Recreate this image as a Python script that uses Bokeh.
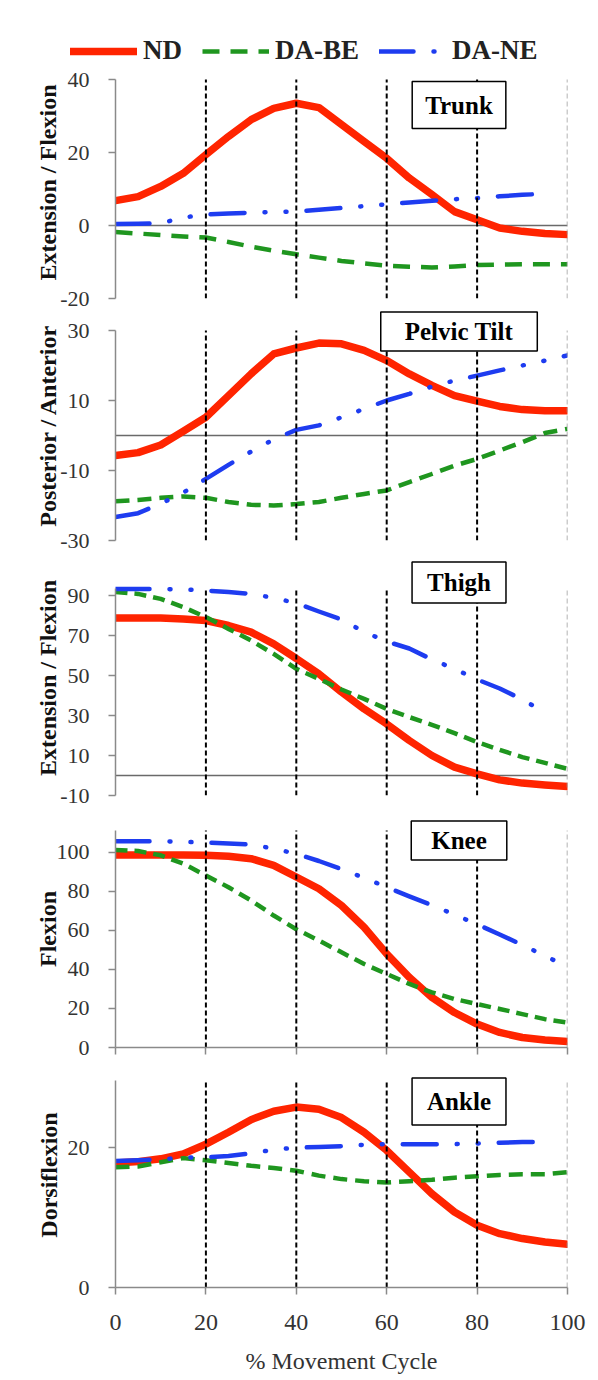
import numpy as np
from bokeh.plotting import figure
from bokeh.models import Range1d, FixedTicker, Span, Label, Legend, LegendItem
from bokeh.layouts import column
from bokeh.embed import file_html
from bokeh.resources import INLINE

NaN = float("nan")

# ---------------- data ----------------
cycle = [0, 5, 10, 15, 20, 25, 30, 35, 40, 45, 50, 55, 60, 65, 70, 75, 80, 85, 90, 95, 100]
series_names = ["ND", "DA-BE", "DA-NE"]
joints = ["Trunk", "Pelvic Tilt", "Thigh", "Knee", "Ankle"]
y_titles = ["Extension / Flexion", "Posterior / Anterior", "Extension / Flexion", "Flexion", "Dorsiflexion"]
x_title = "% Movement Cycle"
x_ticks = [0, 20, 40, 60, 80, 100]
phase_marks = [20, 40, 60, 80]
cycle_end = 100

trunk_nd = [6.8, 7.9, 10.7, 14.3, 19.4, 24.4, 29.0, 32.1, 33.5, 32.3, 27.7, 23.0, 18.4, 13.0, 8.5, 3.8, 1.6, -0.7, -1.6, -2.2, -2.5]
trunk_be = [-1.8, -2.2, -2.6, -3.0, -3.3, -4.5, -5.8, -6.9, -7.9, -8.8, -9.7, -10.4, -11.0, -11.3, -11.5, -11.2, -10.8, -10.7, -10.6, -10.6, -10.6]
trunk_ne = [0.4, 0.5, 0.6, 2.2, 3.0, 3.3, 3.5, 3.7, 3.8, 4.3, 4.8, 5.3, 5.8, 6.3, 6.8, 7.2, 7.5, 8.0, 8.4, 8.7, NaN]

pelvis_nd = [-5.7, -4.9, -2.7, 1.2, 5.2, 11.4, 17.6, 23.3, 25.0, 26.4, 26.2, 24.3, 21.4, 17.6, 14.3, 11.4, 9.8, 8.3, 7.4, 7.1, 7.1]
pelvis_be = [-18.8, -18.4, -17.8, -17.4, -17.8, -19.0, -19.8, -20.0, -19.6, -19.0, -17.8, -16.7, -15.7, -13.3, -11.0, -8.6, -6.7, -4.3, -1.9, 0.7, 1.9]
pelvis_ne = [-23.3, -22.2, -19.5, -16.3, -12.4, -8.4, -4.6, -1.1, 1.6, 2.9, 5.2, 7.6, 10.0, 11.9, 14.0, 15.7, 17.1, 18.6, 20.0, 21.4, 22.9]

thigh_nd = [78.8, 78.8, 78.7, 78.3, 77.5, 75.0, 71.7, 65.8, 58.5, 50.8, 41.7, 33.3, 25.8, 17.5, 10.0, 4.2, 0.8, -2.2, -3.8, -4.7, -5.5]
thigh_be = [91.7, 90.8, 88.3, 84.2, 79.2, 73.3, 67.5, 60.8, 53.3, 48.3, 43.0, 38.3, 33.3, 29.2, 25.3, 21.2, 16.7, 12.8, 9.2, 6.3, 3.3]
thigh_ne = [93.3, 93.3, 93.3, 93.0, 92.5, 91.7, 90.8, 88.8, 86.2, 82.0, 78.0, 71.8, 67.0, 63.5, 58.0, 53.3, 48.0, 43.5, 38.0, 31.5, NaN]

knee_nd = [98.5, 98.5, 98.5, 98.5, 98.3, 97.8, 96.6, 93.2, 87.2, 81.2, 72.6, 61.5, 47.9, 35.9, 25.6, 17.9, 12.0, 7.7, 5.1, 3.8, 3.1]
knee_be = [101.0, 100.5, 98.3, 94.0, 88.0, 82.0, 75.2, 67.5, 60.5, 54.7, 48.7, 42.7, 37.6, 32.5, 28.2, 24.8, 22.2, 19.7, 17.1, 14.5, 12.8]
knee_ne = [105.5, 105.5, 105.5, 105.2, 104.8, 104.3, 103.8, 101.7, 99.1, 95.4, 91.2, 86.8, 82.0, 77.3, 72.8, 68.0, 63.0, 57.8, 52.5, 46.8, 41.5]

ankle_nd = [17.8, 18.0, 18.4, 19.1, 20.5, 22.2, 24.0, 25.2, 25.8, 25.5, 24.3, 22.2, 19.6, 16.5, 13.4, 10.8, 8.9, 7.7, 7.0, 6.5, 6.2]
ankle_be = [17.2, 17.3, 17.9, 18.5, 18.2, 17.8, 17.4, 17.1, 16.7, 16.0, 15.5, 15.2, 15.0, 15.2, 15.4, 15.7, 15.9, 16.1, 16.2, 16.2, 16.5]
ankle_ne = [18.1, 18.2, 18.3, 18.6, 18.6, 18.8, 19.2, 19.7, 20.0, 20.1, 20.2, 20.4, 20.5, 20.5, 20.5, 20.5, 20.6, 20.7, 20.8, 20.8, NaN]

trunk_ticks = [-20, 0, 20, 40]
pelvis_ticks = [-30, -10, 10, 30]
thigh_ticks = [-10, 10, 30, 50, 70, 90]
knee_ticks = [0, 20, 40, 60, 80, 100]
ankle_ticks = [0, 20]

panel_series = [
    (trunk_nd, trunk_be, trunk_ne),
    (pelvis_nd, pelvis_be, pelvis_ne),
    (thigh_nd, thigh_be, thigh_ne),
    (knee_nd, knee_be, knee_ne),
    (ankle_nd, ankle_be, ankle_ne),
]
panel_ticks = [trunk_ticks, pelvis_ticks, thigh_ticks, knee_ticks, ankle_ticks]

# ---------------- style / layout ----------------
RED = "#ff2400"
GREEN = "#1f961f"
BLUE = "#1e3cf0"
SERIF = "Liberation Serif"
W = 590
LEFT, RIGHT = 115, 23
BE_DASH = ["17 11", "14 8", "12 7", "12 7", "14 8"]
NE_DASH = "34 20 1 20 1 20"

# axis bounds, axis pixel height, extra frame above axis, border below,
# title standoff, zero line, label position (data), label padding (h, v)
layout = [
    dict(ax=(-20, 40), ah=219, te=13, bb=12, als=-4, zero=True, lab=(76, 33.0), pad=(13, 10)),
    dict(ax=(-30, 30), ah=210, te=20, bb=20, als=-4, zero=True, lab=(76, 29.7), pad=(24, 6)),
    dict(ax=(-10, 93.5), ah=207, te=28, bb=15, als=-4, zero=True, lab=(76, 96.5), pad=(15, 7)),
    dict(ax=(0, 111), ah=217, te=20, bb=15, als=-7, zero=False, lab=(76, 105.9), pad=(20, 6)),
    dict(ax=(0, 29.6), ah=207, te=18, bb=91, als=3, zero=False, lab=(76, 26.6), pad=(15, 10)),
]

# ---- legend strip (its key glyphs refer to one-sample proxies of the trunk series) ----
lg = figure(width=W, height=66, x_range=Range1d(0, 100), y_range=Range1d(1000, 1001),
            output_backend="svg", toolbar_location=None,
            x_axis_location=None, y_axis_location=None,
            min_border_left=0, min_border_right=0, min_border_top=0, min_border_bottom=0)
lg.frame_align = False
lg.outline_line_color = None
lg.grid.visible = False
lr_nd = lg.line(cycle[:1], trunk_nd[:1], line_color=RED, line_width=7.5, line_cap="round")
lr_be = lg.line(cycle[:1], trunk_be[:1], line_color=GREEN, line_width=4.5, line_dash=BE_DASH[0])
lr_ne = lg.line(cycle[:1], trunk_ne[:1], line_color=BLUE, line_width=4.5, line_dash=NE_DASH, line_cap="round")
legend = Legend(items=[LegendItem(label=series_names[0], renderers=[lr_nd]),
                       LegendItem(label=series_names[1], renderers=[lr_be]),
                       LegendItem(label=series_names[2], renderers=[lr_ne])],
                location=(70, 0), orientation="horizontal",
                border_line_color=None, background_fill_alpha=0,
                padding=0, margin=0, spacing=20, glyph_width=67, glyph_height=30,
                label_height=30, label_standoff=6,
                label_text_font=SERIF, label_text_font_style="bold",
                label_text_font_size="27px", label_text_color="#222222")
lg.add_layout(legend)

figs = [lg]
for i, joint in enumerate(joints):
    L = layout[i]
    lo, hi = L["ax"]
    u = (hi - lo) / L["ah"]
    nd, be, ne = panel_series[i]
    p = figure(width=W, height=L["te"] + L["ah"] + L["bb"],
               x_range=Range1d(0, 100), y_range=Range1d(lo, hi + L["te"] * u),
               output_backend="svg", toolbar_location=None,
               min_border_left=LEFT, min_border_right=RIGHT,
               min_border_top=0, min_border_bottom=L["bb"])
    p.outline_line_color = None
    p.xgrid.visible = False
    p.ygrid.visible = False
    p.background_fill_color = "white"
    p.border_fill_color = "white"

    if L["zero"]:
        p.add_layout(Span(location=0, dimension="width", line_color="#6a6a6a", line_width=1.4, level="underlay"))

    xs = np.array(cycle, float)
    p.line(xs, np.array(nd, float), line_color=RED, line_width=7.5, line_cap="round", line_join="round")
    p.line(xs, np.array(be, float), line_color=GREEN, line_width=4.5, line_dash=BE_DASH[i], line_join="round")
    p.line(xs, np.array(ne, float), line_color=BLUE, line_width=4.5, line_dash=NE_DASH,
           line_cap="round", line_join="round")

    n = len(phase_marks)
    p.segment(x0=phase_marks, y0=[lo] * n, x1=phase_marks, y1=[hi] * n,
              line_color="black", line_width=2, line_dash="5 3")
    p.segment(x0=[cycle_end], y0=[lo], x1=[cycle_end], y1=[hi],
              line_color="#9a9a9a", line_width=1.5, line_dash="5 3")

    # y axis
    ya = p.yaxis[0]
    ya.bounds = (lo, hi)
    ya.ticker = FixedTicker(ticks=panel_ticks[i])
    ya.major_label_overrides = {t: str(t) for t in panel_ticks[i]}
    ya.axis_line_color = "#8a8a8a"
    ya.axis_line_width = 1.5
    ya.major_tick_line_color = "#8a8a8a"
    ya.major_tick_line_width = 1.5
    ya.major_tick_out = 7
    ya.major_tick_in = 0
    ya.minor_tick_line_color = None
    ya.major_label_text_font = SERIF
    ya.major_label_text_font_size = "22px"
    ya.major_label_text_color = "#333333"
    ya.major_label_standoff = 19
    ya.axis_label = y_titles[i]
    ya.axis_label_text_font = SERIF
    ya.axis_label_text_font_style = "bold"
    ya.axis_label_text_font_size = "24px"
    ya.axis_label_text_color = "#111111"
    ya.axis_label_standoff = L["als"]

    # x axis
    xa = p.xaxis[0]
    xa.ticker = FixedTicker(ticks=x_ticks)
    xa.axis_line_color = "#8a8a8a"
    xa.axis_line_width = 1.5
    xa.major_tick_line_color = "#8a8a8a"
    xa.major_tick_line_width = 1.5
    xa.major_tick_out = 7
    xa.major_tick_in = 0
    xa.minor_tick_line_color = None
    if i < 3:
        xa.visible = False
    elif i == 3:
        xa.major_label_text_font_size = "1px"
        xa.major_label_text_color = None
        xa.major_label_standoff = 0
    else:
        xa.major_label_text_font = SERIF
        xa.major_label_text_font_size = "24px"
        xa.major_label_text_color = "#333333"
        xa.major_label_standoff = 20
        xa.axis_label = x_title
        xa.axis_label_text_font = SERIF
        xa.axis_label_text_font_style = "normal"
        xa.axis_label_text_font_size = "24px"
        xa.axis_label_text_color = "#333333"
        xa.axis_label_standoff = 15

    lx, ly = L["lab"]
    p.add_layout(Label(x=lx, y=ly, text=joint, text_align="center", text_baseline="middle",
                       text_font=SERIF, text_font_style="bold", text_font_size="25px",
                       text_color="black", border_line_color="black", border_line_width=1.5,
                       background_fill_color="white", padding=L["pad"]))
    figs.append(p)

page = column(*figs, spacing=0)
open("out.html", "w").write(file_html(page, INLINE))
